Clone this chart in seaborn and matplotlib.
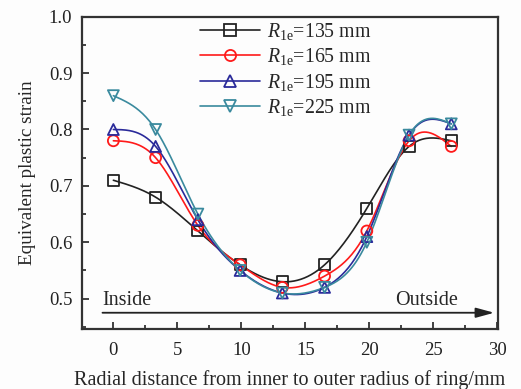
import numpy as np
import pandas as pd
import matplotlib
matplotlib.use("Agg")
import matplotlib.pyplot as plt
import seaborn as sns
from matplotlib.ticker import MultipleLocator

# ---- data ----
distance = [0, 3.3, 6.6, 9.9, 13.2, 16.5, 19.8, 23.1, 26.4]
strain_135 = [0.71, 0.68, 0.62, 0.56, 0.53, 0.56, 0.66, 0.77, 0.78]
strain_165 = [0.78, 0.75, 0.63, 0.56, 0.52, 0.54, 0.62, 0.78, 0.77]
strain_195 = [0.80, 0.77, 0.64, 0.55, 0.51, 0.52, 0.61, 0.79, 0.81]
strain_225 = [0.86, 0.80, 0.65, 0.55, 0.51, 0.52, 0.60, 0.79, 0.81]
series_labels = ["135", "165", "195", "225"]

sns.set_style("ticks")
plt.rcParams["font.family"] = ["Liberation Serif", "DejaVu Serif"]
plt.rcParams["mathtext.fontset"] = "custom"
plt.rcParams["mathtext.it"] = "Liberation Serif:italic"
plt.rcParams["mathtext.rm"] = "Liberation Serif"


def natural_spline(x, y, n=300):
    """Smooth connecting curve (natural cubic spline) through the data points."""
    x = np.asarray(x, float); y = np.asarray(y, float)
    k = len(x); h = np.diff(x)
    A = np.zeros((k, k)); b = np.zeros(k)
    A[0, 0] = A[-1, -1] = 1
    for i in range(1, k - 1):
        A[i, i - 1] = h[i - 1]; A[i, i] = 2 * (h[i - 1] + h[i]); A[i, i + 1] = h[i]
        b[i] = 3 * ((y[i + 1] - y[i]) / h[i] - (y[i] - y[i - 1]) / h[i - 1])
    c = np.linalg.solve(A, b)
    xs = np.linspace(x[0], x[-1], n); ys = np.empty_like(xs)
    for j, xv in enumerate(xs):
        i = min(np.searchsorted(x, xv, side="right") - 1, k - 2)
        dx = xv - x[i]
        bi = (y[i + 1] - y[i]) / h[i] - h[i] * (2 * c[i] + c[i + 1]) / 3
        di = (c[i + 1] - c[i]) / (3 * h[i])
        ys[j] = y[i] + bi * dx + c[i] * dx ** 2 + di * dx ** 3
    return xs, ys


fig = plt.figure(figsize=(5.21, 3.89), dpi=100)
fig.patch.set_facecolor("#fdfdfd")
ax = fig.add_axes([0.1574, 0.154, 0.7985, 0.803])
ax.set_facecolor("#fdfdfd")

series = [strain_135, strain_165, strain_195, strain_225]
colors = ["#222222", "#ff1a1a", "#2a2a9a", "#3a8a9e"]
markers = ["s", "o", "^", "v"]

for vals, lab, col, mk in zip(series, series_labels, colors, markers):
    xs, ys = natural_spline(distance, vals)
    sns.lineplot(x=xs, y=ys, ax=ax, color=col, lw=1.2, sort=False, legend=False)
    df = pd.DataFrame({"d": distance, "s": vals})
    sns.scatterplot(data=df, x="d", y="s", ax=ax, marker=mk, s=62,
                    facecolor="none", edgecolor=col, linewidth=1.3, legend=False, zorder=5)
    ax.plot([], [], color=col, lw=1.2, marker=mk, ms=8, mfc="none", mec=col, mew=1.3,
            label=r"$R_{\mathrm{1e}}$=" + lab + " mm")

ax.set_xlim(-2.45, 30.05)
ax.set_ylim(0.446, 1.0)
ax.xaxis.set_major_locator(MultipleLocator(5))
ax.xaxis.set_minor_locator(MultipleLocator(2.5))
ax.yaxis.set_major_locator(MultipleLocator(0.1))
ax.yaxis.set_minor_locator(MultipleLocator(0.05))
ax.tick_params(which="both", direction="in", labelsize=13.5, width=1.2, colors="#222222")
ax.tick_params(axis="x", pad=9)
ax.tick_params(axis="y", pad=7)
ax.tick_params(which="major", length=5)
ax.tick_params(which="minor", length=3)
ax.set_yticks([0.5, 0.6, 0.7, 0.8, 0.9, 1.0])
ax.set_yticklabels(["0.5", "0.6", "0.7", "0.8", "0.9", "1.0"])
for sp in ax.spines.values():
    sp.set_linewidth(1.6)
    sp.set_color("#333333")

ax.set_xlabel("Radial distance from inner to outer radius of ring/mm", fontsize=14.5, labelpad=8)
ax.set_ylabel("Equivalent plastic strain", fontsize=13.8, labelpad=9)

ax.annotate("", xy=(29.75, 0.475), xytext=(-0.85, 0.475),
            arrowprops=dict(arrowstyle="-|>,head_length=1.1,head_width=0.3",
                            color="#222222", lw=1.3, shrinkA=0, shrinkB=0))
ax.text(-0.85, 0.480, "Inside", fontsize=14.5, ha="left", va="bottom")
ax.text(26.95, 0.480, "Outside", fontsize=14.5, ha="right", va="bottom")

leg = ax.legend(loc="upper left", bbox_to_anchor=(0.258, 1.022), frameon=False, fontsize=14.3,
                handlelength=3.0, handletextpad=0.35, labelspacing=0.22, borderaxespad=0.15)

fig.savefig("out.png", dpi=100, facecolor=fig.get_facecolor())
